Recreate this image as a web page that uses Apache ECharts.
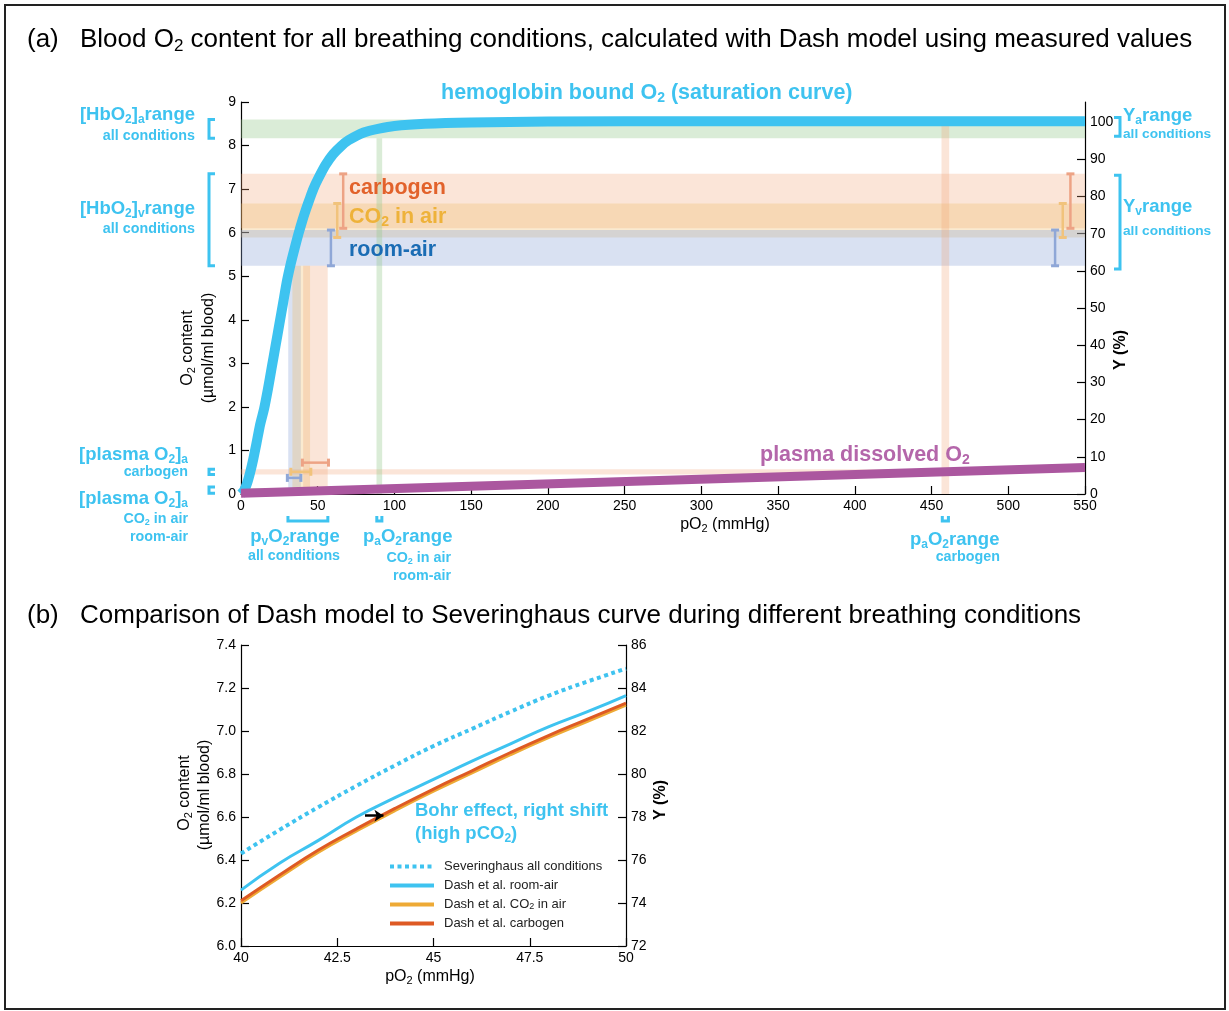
<!DOCTYPE html>
<html><head><meta charset="utf-8">
<script src="https://cdn.jsdelivr.net/npm/echarts@6/dist/echarts.min.js"></script>
<style>html,body{margin:0;padding:0;background:#fff}#c{width:1229px;height:1011px}</style>
</head><body><div id="c"></div>
<script>
// ---------- DATA (a) ----------
const satPO2 = [0,2,4,6,8,10,12.5,15,17.5,20,22.5,25,27.5,30,32.5,35,37.5,40,42.5,45,47.5,50,55,60,65,70,80,90,100,120,150,200,300,550];
const satContent = [0,0.08,0.25,0.5,0.8,1.15,1.6,1.95,2.4,2.9,3.4,3.9,4.4,4.9,5.3,5.65,5.98,6.28,6.55,6.8,7.03,7.22,7.55,7.8,7.98,8.12,8.3,8.39,8.45,8.5,8.53,8.55,8.56,8.56];
const plasmaPO2 = [0,550];
const plasmaContent = [0.02,0.61];
const yPctTicks = [0,10,20,30,40,50,60,70,80,90,100];
// horizontal bands (content), spanning pO2 from 0 to xEnd
const hBandNames = ['HbO2 a','carbogen v','CO2 v','room-air v','plasma carbogen','plasma air'];
const hBandLo = [8.17, 6.10, 5.89, 5.24, 0.45, 0.08];
const hBandHi = [8.60, 7.35, 6.67, 6.06, 0.57, 0.14];
const hBandXEnd = [550, 550, 550, 550, 461.5, 92.0];
// vertical bands (pO2)
const vBandNames = ['pa air','pa carbogen','pv room-air','pv CO2','pv carbogen'];
const vBandLo = [88.3, 456.5, 30.8, 33.5, 40.5];
const vBandHi = [92.0, 461.5, 39.0, 45.0, 56.5];
const vBandTop = [8.17, 8.60, 5.24, 5.24, 5.24];
// error bars: conditions 0 room-air, 1 CO2 in air, 2 carbogen
const vErrX = [58.6, 62.7, 66.6, 530.5, 535.5, 540.5];
const vErrLo = [5.24, 5.89, 6.10, 5.24, 5.89, 6.10];
const vErrHi = [6.06, 6.67, 7.35, 6.06, 6.67, 7.35];
const vErrCond = [0,1,2,0,1,2];
const hErrY = [0.37, 0.51, 0.72];
const hErrLo = [30.2, 32.5, 40.0];
const hErrHi = [39.0, 45.5, 57.0];
const hErrCond = [0,1,2];
// range brackets
const leftBracketLo = [8.17, 5.24, 0.45, 0.02];
const leftBracketHi = [8.60, 7.35, 0.57, 0.16];
const rightBracketLo = [96.2, 60.5];
const rightBracketHi = [101.2, 85.7];
const bottomBracketLo = [30.6, 88.5, 457.0];
const bottomBracketHi = [56.6, 91.8, 461.0];
// ---------- DATA (b) ----------
const bPO2 = [40,41,42,43,44,45,46,47,48,49,50];
const severinghaus = [6.43,6.54,6.645,6.745,6.84,6.93,7.01,7.09,7.165,7.23,7.29];
const dashRoom = [6.26,6.385,6.49,6.6,6.69,6.775,6.86,6.94,7.02,7.09,7.165];
const dashCO2 = [6.20,6.32,6.435,6.535,6.63,6.72,6.805,6.89,6.97,7.045,7.12];
const dashCarb = [6.21,6.33,6.445,6.545,6.64,6.73,6.815,6.9,6.98,7.055,7.13];
const arrowFrom = [43.22, 6.606];
const arrowTo = [43.70, 6.606];

// ---------- STYLE ----------
const F = '"Liberation Sans", Arial, Helvetica, sans-serif';
const BLUE = '#3ec3f0';
const hBandColors = ['rgba(150,200,140,0.35)','rgba(240,160,115,0.28)','rgba(240,185,100,0.30)','rgba(140,165,215,0.33)','rgba(240,160,115,0.28)','rgba(150,200,140,0.35)'];
const vBandColors = ['rgba(150,200,140,0.35)','rgba(240,160,115,0.28)','rgba(140,165,215,0.33)','rgba(240,185,100,0.30)','rgba(240,160,115,0.28)'];
const errColors = ['#8fa7d7','#f1c37c','#eda385'];

const zip2 = (a,b) => a.map((v,i)=>[v,b[i]]);

function T(x, y, text, o) {
  o = o || {};
  const fs = o.fs || 14;
  const col = o.color || '#000';
  const fw = o.bold ? 'bold' : 'normal';
  return {type:'text', x:x, y:y, rotation:o.rot||0, z:100, silent:true,
    style:{text:text, fill:col, fontSize:fs, fontWeight:fw, fontFamily:F,
      align:o.align||'left', verticalAlign:'middle', lineHeight:Math.round(fs*1.15),
      rich:{
        s:{fontSize:Math.round(fs*0.66), fontWeight:fw, fontFamily:F, fill:col, lineHeight:Math.round(fs*0.45), verticalAlign:'bottom'}
      }}};
}

const markAreaData = [];
hBandNames.forEach((n,i)=>markAreaData.push([{name:n, xAxis:0, yAxis:hBandLo[i], itemStyle:{color:hBandColors[i]}},{xAxis:hBandXEnd[i], yAxis:hBandHi[i]}]));
vBandNames.forEach((n,i)=>markAreaData.push([{name:n, xAxis:vBandLo[i], yAxis:0, itemStyle:{color:vBandColors[i]}},{xAxis:vBandHi[i], yAxis:vBandTop[i]}]));

function errV(params, api){
  const x=api.value(0), lo=api.value(1), hi=api.value(2), c=api.value(3);
  const p1=api.coord([x,lo]), p2=api.coord([x,hi]); const col=errColors[c]; const cap=4;
  return {type:'group', children:[
    {type:'line', shape:{x1:p1[0],y1:p1[1],x2:p2[0],y2:p2[1]}, style:{stroke:col,lineWidth:2.5}},
    {type:'line', shape:{x1:p1[0]-cap,y1:p1[1],x2:p1[0]+cap,y2:p1[1]}, style:{stroke:col,lineWidth:3}},
    {type:'line', shape:{x1:p2[0]-cap,y1:p2[1],x2:p2[0]+cap,y2:p2[1]}, style:{stroke:col,lineWidth:3}}]};
}
function errH(params, api){
  const y=api.value(0), lo=api.value(1), hi=api.value(2), c=api.value(3);
  const p1=api.coord([lo,y]), p2=api.coord([hi,y]); const col=errColors[c]; const cap=4;
  return {type:'group', children:[
    {type:'line', shape:{x1:p1[0],y1:p1[1],x2:p2[0],y2:p2[1]}, style:{stroke:col,lineWidth:2.5}},
    {type:'line', shape:{x1:p1[0],y1:p1[1]-cap,x2:p1[0],y2:p1[1]+cap}, style:{stroke:col,lineWidth:3}},
    {type:'line', shape:{x1:p2[0],y1:p2[1]-cap,x2:p2[0],y2:p2[1]+cap}, style:{stroke:col,lineWidth:3}}]};
}
function brLeft(params, api){
  const lo=api.value(0), hi=api.value(1);
  const p1=api.coord([0,lo]), p2=api.coord([0,hi]); const x=p1[0]-32, w=6;
  return {type:'polyline', shape:{points:[[x+w,p2[1]],[x,p2[1]],[x,p1[1]],[x+w,p1[1]]]}, style:{stroke:BLUE,lineWidth:3,fill:null}};
}
function brRight(params, api){
  const lo=api.value(0), hi=api.value(1);
  const p1=api.coord([550,lo]), p2=api.coord([550,hi]); const x=p1[0]+35, w=6;
  return {type:'polyline', shape:{points:[[x-w,p2[1]],[x,p2[1]],[x,p1[1]],[x-w,p1[1]]]}, style:{stroke:BLUE,lineWidth:3,fill:null}};
}
function brBottom(params, api){
  const lo=api.value(0), hi=api.value(1);
  const p1=api.coord([lo,0]), p2=api.coord([hi,0]); const y=p1[1]+27, h=5;
  return {type:'polyline', shape:{points:[[p1[0],y-h],[p1[0],y],[p2[0],y],[p2[0],y-h]]}, style:{stroke:BLUE,lineWidth:3,fill:null}};
}

const axCommon = {
  axisLine:{show:true, lineStyle:{color:'#000', width:1.2}},
  axisTick:{show:true, inside:true, length:8, lineStyle:{color:'#000', width:1.2}},
  axisLabel:{color:'#000', fontSize:14, fontFamily:F, margin:5},
  splitLine:{show:false}
};

const option = {
  animation:false,
  backgroundColor:'#fff',
  grid:[
    {left:241, right:144, top:102, height:392, outerBoundsMode:'none'},
    {left:241, width:385, top:645, height:301, outerBoundsMode:'none'}
  ],
  xAxis:[
    Object.assign({gridIndex:0, type:'value', min:0, max:550, interval:50}, axCommon),
    Object.assign({gridIndex:1, type:'value', min:40, max:50, interval:2.5}, axCommon)
  ],
  yAxis:[
    Object.assign({gridIndex:0, type:'value', min:0, max:9, interval:1, position:'left'}, axCommon),
    Object.assign({}, axCommon, {gridIndex:0, type:'value', min:0, max:105.4, position:'right',
      axisTick:{show:true, inside:true, length:8, lineStyle:{color:'#000', width:1.2}, customValues:yPctTicks},
      axisLabel:{color:'#000', fontSize:14, fontFamily:F, margin:5, customValues:yPctTicks}}),
    Object.assign({}, axCommon, {gridIndex:1, type:'value', min:6, max:7.4, interval:0.2, position:'left',
      axisLabel:{color:'#000', fontSize:14, fontFamily:F, margin:5, formatter:v=>v.toFixed(1)}}),
    Object.assign({gridIndex:1, type:'value', min:72, max:86, interval:2, position:'right'}, axCommon)
  ],
  legend:{
    data:['Severinghaus all conditions','Dash et al. room-air','Dash et al. CO2 in air','Dash et al. carbogen'],
    orient:'vertical', left:383, top:855, itemWidth:44, itemHeight:12, itemGap:6,
    lineStyle:{width:4}, itemStyle:{opacity:0},
    textStyle:{fontSize:13, color:'#222', fontFamily:F, padding:[0,0,0,5], rich:{s:{fontSize:9, lineHeight:5, verticalAlign:'bottom', color:'#222', fontFamily:F}}},
    formatter:function(n){ return n==='Dash et al. CO2 in air' ? 'Dash et al. CO{s|2} in air' : n; }
  },
  series:[
    {type:'line', name:'bands', xAxisIndex:0, yAxisIndex:0, data:[[0,0]], symbol:'none', lineStyle:{opacity:0}, z:1, silent:true,
      markArea:{silent:true, label:{show:false}, data:markAreaData}},
    {type:'custom', name:'errV', xAxisIndex:0, yAxisIndex:0, renderItem:errV, z:2, silent:true,
      encode:{x:0, y:[1,2]}, data:vErrX.map((x,i)=>[x,vErrLo[i],vErrHi[i],vErrCond[i]])},
    {type:'custom', name:'errH', xAxisIndex:0, yAxisIndex:0, renderItem:errH, z:2, silent:true,
      encode:{x:[1,2], y:0}, data:hErrY.map((y,i)=>[y,hErrLo[i],hErrHi[i],hErrCond[i]])},
    {type:'line', name:'saturation', xAxisIndex:0, yAxisIndex:0, data:zip2(satPO2,satContent), symbol:'none',
      smooth:0.2, lineStyle:{color:BLUE, width:10, join:'round'}, z:3, silent:true},
    {type:'line', name:'plasma', xAxisIndex:0, yAxisIndex:0, data:zip2(plasmaPO2,plasmaContent), symbol:'none', clip:false,
      lineStyle:{color:'#ab579f', width:9, cap:'butt'}, z:4, silent:true},
    {type:'custom', name:'brL', xAxisIndex:0, yAxisIndex:0, renderItem:brLeft, clip:false, silent:true, z:5,
      encode:{y:[0,1]}, data:leftBracketLo.map((v,i)=>[v,leftBracketHi[i]])},
    {type:'custom', name:'brR', xAxisIndex:0, yAxisIndex:1, renderItem:brRight, clip:false, silent:true, z:5,
      encode:{y:[0,1]}, data:rightBracketLo.map((v,i)=>[v,rightBracketHi[i]])},
    {type:'custom', name:'brB', xAxisIndex:0, yAxisIndex:0, renderItem:brBottom, clip:false, silent:true, z:5,
      encode:{x:[0,1]}, data:bottomBracketLo.map((v,i)=>[v,bottomBracketHi[i]])},
    // (b)
    {type:'line', name:'Severinghaus all conditions', xAxisIndex:1, yAxisIndex:2, data:zip2(bPO2,severinghaus), symbol:'none', smooth:true,
      lineStyle:{color:BLUE, width:4, type:[4,3.5], cap:'butt'}, itemStyle:{color:BLUE}, z:3},
    {type:'line', name:'Dash et al. room-air', xAxisIndex:1, yAxisIndex:2, data:zip2(bPO2,dashRoom), symbol:'none', smooth:true,
      lineStyle:{color:BLUE, width:3}, itemStyle:{color:BLUE}, z:3},
    {type:'line', name:'Dash et al. CO2 in air', xAxisIndex:1, yAxisIndex:2, data:zip2(bPO2,dashCO2), symbol:'none', smooth:true,
      lineStyle:{color:'#eeaa35', width:3}, itemStyle:{color:'#eeaa35'}, z:3},
    {type:'line', name:'Dash et al. carbogen', xAxisIndex:1, yAxisIndex:2, data:zip2(bPO2,dashCarb), symbol:'none', smooth:true,
      lineStyle:{color:'#de5a24', width:3}, itemStyle:{color:'#de5a24'}, z:3,
      markLine:{silent:true, symbol:['none','arrow'], symbolSize:[9,9], label:{show:false},
        lineStyle:{color:'#000', width:2.5, type:'solid'},
        data:[[{coord:arrowFrom},{coord:arrowTo}]]}}
  ],
  graphic:[
    {type:'rect', shape:{x:5,y:5,width:1220,height:1004}, style:{fill:null, stroke:'#222', lineWidth:2}, silent:true, z:0},
    T(27,40,'(a)',{fs:26}),
    T(80,40,'Blood O{s|2} content for all breathing conditions, calculated with Dash model using measured values',{fs:26}),
    T(27,616,'(b)',{fs:26}),
    T(80,616,'Comparison of Dash model to Severinghaus curve during different breathing conditions',{fs:26}),
    // in-plot (a)
    T(441,93,'hemoglobin bound O{s|2} (saturation curve)',{fs:21.5,bold:true,color:BLUE}),
    T(349,188,'carbogen',{fs:21.5,bold:true,color:'#e2622b'}),
    T(349,217,'CO{s|2} in air',{fs:21.5,bold:true,color:'#eeb23a'}),
    T(349,250,'room-air',{fs:21.5,bold:true,color:'#1a6cb4'}),
    T(760,455,'plasma dissolved O{s|2}',{fs:21.5,bold:true,color:'#b466aa'}),
    // left labels
    T(195,115,'[HbO{s|2}]{s|a}range',{fs:18.5,bold:true,color:BLUE,align:'right'}),
    T(195,136,'all conditions',{fs:14.3,bold:true,color:BLUE,align:'right'}),
    T(195,209,'[HbO{s|2}]{s|v}range',{fs:18.5,bold:true,color:BLUE,align:'right'}),
    T(195,229,'all conditions',{fs:14.3,bold:true,color:BLUE,align:'right'}),
    T(188,455,'[plasma O{s|2}]{s|a}',{fs:18.5,bold:true,color:BLUE,align:'right'}),
    T(188,472,'carbogen',{fs:14.3,bold:true,color:BLUE,align:'right'}),
    T(188,499,'[plasma O{s|2}]{s|a}',{fs:18.5,bold:true,color:BLUE,align:'right'}),
    T(188,519,'CO{s|2} in air',{fs:14.3,bold:true,color:BLUE,align:'right'}),
    T(188,537,'room-air',{fs:14.3,bold:true,color:BLUE,align:'right'}),
    // right labels
    T(1123,116,'Y{s|a}range',{fs:18.5,bold:true,color:BLUE}),
    T(1123,134,'all conditions',{fs:13.7,bold:true,color:BLUE}),
    T(1123,207,'Y{s|v}range',{fs:18.5,bold:true,color:BLUE}),
    T(1123,231,'all conditions',{fs:13.7,bold:true,color:BLUE}),
    // bottom labels
    T(295,537,'p{s|v}O{s|2}range',{fs:18.5,bold:true,color:BLUE,align:'center'}),
    T(294,556,'all conditions',{fs:14.3,bold:true,color:BLUE,align:'center'}),
    T(363,537,'p{s|a}O{s|2}range',{fs:18.5,bold:true,color:BLUE}),
    T(451,558,'CO{s|2} in air',{fs:14.3,bold:true,color:BLUE,align:'right'}),
    T(451,576,'room-air',{fs:14.3,bold:true,color:BLUE,align:'right'}),
    T(910,540,'p{s|a}O{s|2}range',{fs:18.5,bold:true,color:BLUE}),
    T(1000,557,'carbogen',{fs:14.3,bold:true,color:BLUE,align:'right'}),
    // axis titles (a)
    T(188,348,'O{s|2} content',{fs:16,rot:Math.PI/2,align:'center'}),
    T(209,348,'(µmol/ml blood)',{fs:16,rot:Math.PI/2,align:'center'}),
    T(725,525,'pO{s|2} (mmHg)',{fs:16,align:'center'}),
    T(1121,350,'Y (%)',{fs:16,bold:true,rot:Math.PI/2,align:'center'}),
    // axis titles (b)
    T(185,793,'O{s|2} content',{fs:16,rot:Math.PI/2,align:'center'}),
    T(205,795,'(µmol/ml blood)',{fs:16,rot:Math.PI/2,align:'center'}),
    T(430,977,'pO{s|2} (mmHg)',{fs:16,align:'center'}),
    T(661,800,'Y (%)',{fs:16,bold:true,rot:Math.PI/2,align:'center'}),
    T(415,811,'Bohr effect, right shift',{fs:18.5,bold:true,color:BLUE}),
    T(415,834,'(high pCO{s|2})',{fs:18.5,bold:true,color:BLUE})
  ]
};
const chart = echarts.init(document.getElementById('c'), null, {renderer:'canvas'});
chart.setOption(option);
</script></body></html>
